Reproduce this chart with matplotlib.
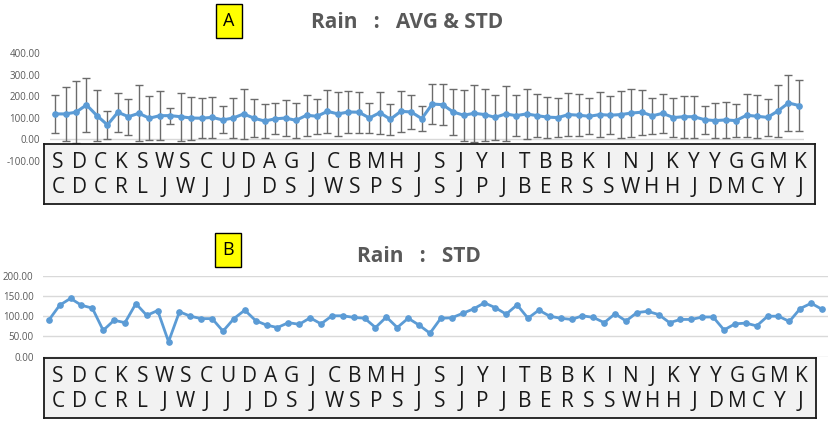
import numpy as np
import matplotlib
matplotlib.use("Agg")
import matplotlib.pyplot as plt

# station codes: top letter / bottom letter of each pair
top_letters = list("SDCKSWSCUDAGJCBMHJSJYITBBKINJKYYGGMK")
bottom_letters = ["C", "D", "C", "R", "L", "J", "W", "J", "J", "J", "D", "S",
                  "J", "W", "S", "P", "S", "J", "S", "J", "P", "J", "B", "E",
                  "R", "S", "S", "W", "H", "H", "J", "D", "M", "C", "Y", "J"]

# rain average (72 points)
rain_avg = [118, 118, 126, 160, 110, 67, 126, 105, 121, 98, 110, 110,
            105, 99, 98, 102, 90, 99, 118, 98, 85, 95, 99, 88,
            112, 107, 130, 118, 127, 126, 99, 124, 93, 130, 127, 96,
            164, 161, 127, 112, 121, 115, 102, 118, 110, 118, 110, 103,
            101, 115, 112, 107, 115, 112, 115, 122, 126, 109, 121, 101,
            105, 105, 91, 87, 90, 87, 112, 107, 102, 132, 169, 157]

# rain standard deviation (72 points)
rain_std = [90, 127, 144, 127, 120, 65, 90, 84, 131, 102, 114, 37,
            111, 100, 94, 94, 63, 94, 115, 89, 78, 72, 84, 80,
            96, 81, 101, 101, 97, 95, 72, 98, 72, 95, 78, 58,
            95, 96, 107, 118, 133, 121, 105, 128, 95, 115, 100, 95,
            92, 101, 97, 84, 106, 88, 109, 112, 104, 84, 92, 92,
            98, 98, 66, 81, 83, 76, 100, 100, 87, 119, 132, 117]

W, H = 830, 423
BLUE = "#5B9BD5"
GREY_TXT = "#595959"
plt.rcParams["font.family"] = ["Open Sans", "DejaVu Sans"]

fig = plt.figure(figsize=(W / 100, H / 100), dpi=100)


def px_axes(x0, y0, x1, y1):
    # pixel box (top-left origin) -> figure axes
    return fig.add_axes([x0 / W, 1 - y1 / H, (x1 - x0) / W, (y1 - y0) / H])


def style_axes(ax, ticks, grid):
    for s in ax.spines.values():
        s.set_visible(False)
    ax.set_xticks([])
    ax.set_yticks(ticks)
    ax.set_yticklabels([f"{t:.2f}" for t in ticks], fontsize=7, color=GREY_TXT)
    ax.tick_params(axis="y", length=0, pad=7)
    if grid:
        ax.yaxis.grid(True, color="#d9d9d9", linewidth=1)
        ax.set_axisbelow(True)
    else:
        ax.axhline(0, color="#d9d9d9", linewidth=1, zorder=0)


def letter_box(x0, y0, x1, y1):
    ax = px_axes(x0, y0, x1, y1)
    ax.set_xlim(-0.66, 35.71)
    ax.set_ylim(0, 1)
    ax.set_facecolor("#f2f2f2")
    for s in ax.spines.values():
        s.set_color("#1a1a1a")
        s.set_linewidth(1.3)
    ax.set_xticks([])
    ax.set_yticks([])
    for i, (t, b) in enumerate(zip(top_letters, bottom_letters)):
        ax.text(i, 0.69, t, ha="center", va="center", fontsize=15, color="#1a1a1a")
        ax.text(i, 0.27, b, ha="center", va="center", fontsize=15, color="#1a1a1a")
    return ax


def tag(x, y, label):
    fig.text(x / W, 1 - y / H, label, ha="center", va="center", fontsize=13,
             color="black",
             bbox=dict(boxstyle="square,pad=0.42", facecolor="#FFFF00",
                       edgecolor="black", linewidth=1))


x = np.arange(len(rain_avg))

# ---- panel A: average with std error bars
axA = px_axes(49.8, 53.3, 804.2, 160.8)
axA.set_xlim(-0.5, len(x) - 0.5)
axA.set_ylim(-100, 400)
style_axes(axA, [-100, 0, 100, 200, 300, 400], grid=False)
axA.errorbar(x, rain_avg, yerr=rain_std, fmt="none", ecolor="#6b6b6b",
             elinewidth=1, capsize=2.8, capthick=1, zorder=2)
axA.plot(x, rain_avg, color=BLUE, linewidth=2.2, marker="o", markersize=3.8,
         solid_joinstyle="round", zorder=3)
letter_box(44, 144, 815, 204)
tag(229, 21, "A")
fig.text(407 / W, 1 - 22 / H, "Rain   :   AVG & STD", ha="center", va="center",
         fontsize=15, fontweight="bold", color=GREY_TXT)

# ---- panel B: std only
axB = px_axes(43.3, 275.7, 827.5, 356.7)
axB.set_xlim(-0.5, len(x) - 0.5)
axB.set_ylim(0, 200)
style_axes(axB, [0, 50, 100, 150, 200], grid=True)
axB.plot(x, rain_std, color=BLUE, linewidth=2, marker="o", markersize=3.8,
         solid_joinstyle="round", zorder=3)
letter_box(44, 358, 816, 418)
tag(228, 250, "B")
fig.text(419 / W, 1 - 257 / H, "Rain   :   STD", ha="center", va="center",
         fontsize=15, fontweight="bold", color=GREY_TXT)

fig.savefig("out.png", dpi=100)
